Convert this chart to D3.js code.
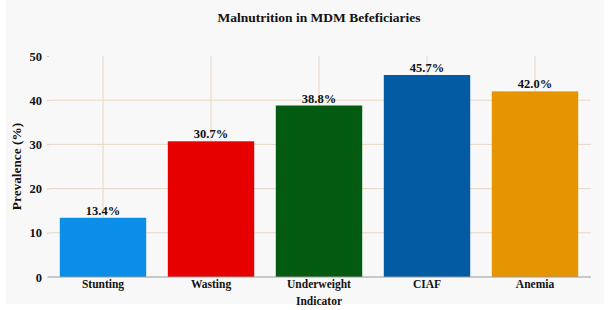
<!DOCTYPE html>
<html lang="en">
<head>
  <meta charset="UTF-8">
  <title>malnutrition</title>
  <script src="https://cdn.jsdelivr.net/npm/d3@7"></script>
  <style>
    body { margin: 0; background: #fff; }
    text { font-family: "Liberation Serif", "DejaVu Serif", serif; font-weight: bold; fill: #111; }
    .grid-line { stroke: #e6d5c3; stroke-width: 1; }
  </style>
</head>
<body>
<script>
let width = 610;
let height = 310;

let categories = ['Stunting', 'Wasting', 'Underweight', 'CIAF', 'Anemia'];
let values = [13.4, 30.7, 38.8, 45.7, 42.0];
let colors = ['#0a8ee8', '#e70000', '#025b10', '#035ca3', '#e49500'];
let yTicks = [0, 10, 20, 30, 40, 50];

let plotLeft = 49, plotRight = 589, plotTop = 56, plotBottom = 277;

let svg = d3.select('body')
  .append('svg')
  .attr('width', width)
  .attr('height', height);

svg.append('rect')
  .attr('x', 6).attr('y', 0)
  .attr('width', 598).attr('height', 304)
  .attr('fill', '#f8f8f8');

let x = d3.scaleBand()
  .domain(categories)
  .range([plotLeft, plotRight])
  .paddingInner(0.2)
  .paddingOuter(0.1);

let y = d3.scaleLinear()
  .domain([0, 50])
  .range([plotBottom, plotTop]);

// grid
svg.append('g')
  .selectAll('line')
  .data(yTicks.slice(1, 5))
  .enter().append('line')
  .classed('grid-line', true)
  .attr('x1', plotLeft).attr('x2', plotRight + 2)
  .attr('y1', d => y(d)).attr('y2', d => y(d));

svg.append('g')
  .selectAll('line')
  .data(categories)
  .enter().append('line')
  .classed('grid-line', true)
  .attr('x1', d => x(d) + x.bandwidth() / 2)
  .attr('x2', d => x(d) + x.bandwidth() / 2)
  .attr('y1', y(50)).attr('y2', y(0));

// bars
svg.append('g')
  .selectAll('rect')
  .data(values)
  .enter().append('rect')
  .attr('x', (d, i) => x(categories[i]))
  .attr('y', d => y(d))
  .attr('width', x.bandwidth())
  .attr('height', d => y(0) - y(d))
  .attr('fill', (d, i) => colors[i]);

svg.append('g')
  .selectAll('text')
  .data(values)
  .enter().append('text')
  .attr('x', (d, i) => x(categories[i]) + x.bandwidth() / 2)
  .attr('y', d => y(d) - 3)
  .attr('text-anchor', 'middle')
  .style('font-size', '12.5px')
  .text(d => d.toFixed(1) + '%');

// x axis
let xAxis = svg.append('g')
  .attr('transform', 'translate(0,' + plotBottom + ')')
  .call(d3.axisBottom(x).tickSize(0).tickPadding(3));
xAxis.select('.domain').attr('stroke', '#999').attr('d', 'M' + (plotLeft - 1) + ',0H' + (plotRight + 2));
xAxis.selectAll('text').style('font-size', '11.5px');

// y axis
let yAxis = svg.append('g')
  .attr('transform', 'translate(' + plotLeft + ',0)')
  .call(d3.axisLeft(y).tickValues(yTicks).tickSize(2).tickPadding(5));
yAxis.select('.domain').remove();
yAxis.selectAll('line').attr('stroke', '#ccc');
yAxis.selectAll('text').style('font-size', '12.5px');

// titles
svg.append('text')
  .attr('x', (plotLeft + plotRight) / 2).attr('y', 22)
  .attr('text-anchor', 'middle')
  .style('font-size', '13.5px')
  .text('Malnutrition in MDM Befeficiaries');

svg.append('text')
  .attr('transform', 'translate(21,' + ((plotTop + plotBottom) / 2) + ') rotate(-90)')
  .attr('text-anchor', 'middle')
  .style('font-size', '13.3px')
  .text('Prevalence (%)');

svg.append('text')
  .attr('x', x('Underweight') + x.bandwidth() / 2).attr('y', 305)
  .attr('text-anchor', 'middle')
  .style('font-size', '11.5px')
  .text('Indicator');
</script>
</body>
</html>
